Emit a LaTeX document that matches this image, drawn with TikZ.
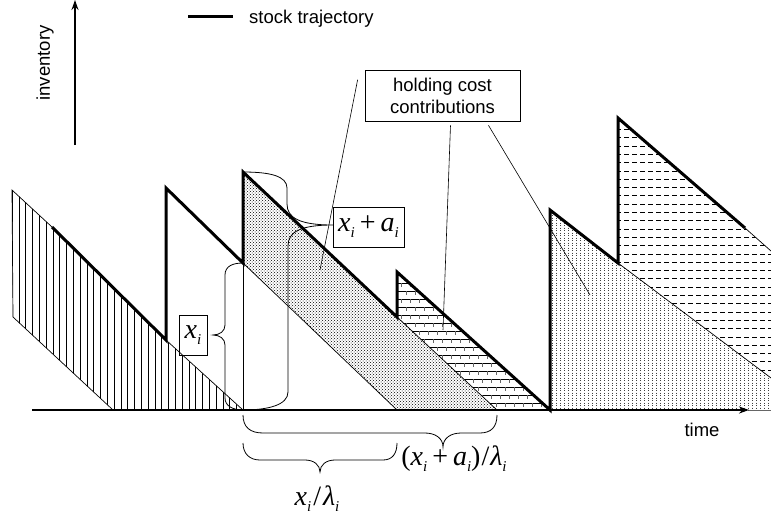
\documentclass[tikz,border=0pt]{standalone}
\usepackage{fontspec}
\setmainfont{Liberation Sans}
\newfontfamily\tms{Liberation Serif}
\usetikzlibrary{patterns,arrows.meta,calc}
% italic letter with italic subscript
\newcommand\mvar[2]{\textit{#1}\raisebox{-0.22em}{\fontsize{15}{15}\selectfont\textit{#2}}}

\begin{document}
\begin{tikzpicture}[x=1pt, y=-1pt,
    traj/.style={line width=3pt},
    edge/.style={line width=0.7pt},
    hatch/.style={line width=0.55pt},
    dotcol/.style={line width=0.8pt, black!75, dash pattern=on 0.8pt off 1.7pt},
    dashrow/.style={line width=0.6pt, dash pattern=on 5pt off 3pt},
    brc/.style={line width=0.8pt},
    leader/.style={line width=0.6pt},
    axis/.style={-{Stealth[length=10pt,width=7pt]}},
    lbl/.style={font=\fontsize{18.5}{22}\selectfont, inner sep=0pt},
    mlbl/.style={font=\tms\fontsize{28}{30}\selectfont, inner sep=0pt},
    framed/.style={draw, line width=0.7pt},
  ]
  \useasboundingbox (0,0) rectangle (771,517);

  %% --- holding cost areas ---
  % earlier batch: vertical lines
  \begin{scope}
    \clip (12,190) -- (52,227) -- (166,340) -- (243,410) -- (113,410) -- (13,317) -- cycle;
    \foreach \x in {12,18.8,...,244}
      \draw[hatch] (\x,180) -- (\x,412);
  \end{scope}

  % batch x_i + a_i: dots
  \fill[pattern=crosshatch dots, pattern color=black]
    (243,172) -- (497,410) -- (397,410) -- (243,263) -- cycle;

  % small batch: bricks
  \begin{scope}
    \clip (397,272) -- (550,410) -- (497,410) -- (397,317) -- cycle;
    \foreach \r in {0,...,17} {
      \pgfmathsetmacro\yb{275+8*\r}
      \pgfmathsetmacro\xo{397+4.5*mod(\r,2)}
      \draw[hatch] (395,\yb) -- (552,\yb);
      \foreach \k in {0,...,17}
        \draw[hatch, black!60] ({\xo+9*\k},\yb) -- ({\xo+9*\k},{\yb+4});
    }
  \end{scope}

  % next batch: dotted columns
  \begin{scope}
    \clip (550,210) -- (618,263) -- (771,378) -- (771,410) -- (550,410) -- cycle;
    \foreach \x in {552,556,...,770}
      \draw[dotcol] (\x,205) -- (\x,411);
  \end{scope}

  % last batch: dashed rows
  \begin{scope}
    \clip (618,118) -- (745,228) -- (771,251) -- (771,378) -- (618,263) -- cycle;
    \foreach \y in {121,129.3,...,380}
      \draw[dashrow] (616,\y) -- (771,\y);
  \end{scope}

  %% --- area outlines ---
  \draw[edge] (52,227) -- (12,190) -- (13,317) -- (113,410);
  \draw[edge] (166,340) -- (243,410);
  \draw[edge] (243,263) -- (243,410);
  \draw[edge] (243,263) -- (397,410);
  \draw[edge] (397,317) -- (497,410);
  \draw[edge] (618,263) -- (771,378);
  \draw[edge] (745,228) -- (771,251);
  \draw[edge, black!60] (748,410) -- (771,410);

  %% --- stock trajectory ---
  \draw[traj] (52,227) -- (166,340) -- (166,188) -- (243,263) -- (243,172)
    -- (397,317) -- (397,272) -- (550,410) -- (550,210) -- (618,263)
    -- (618,118) -- (745,228);

  %% --- axes ---
  \coordinate (t0) at (32,410);
  \coordinate (t1) at (749,410);
  \coordinate (v0) at (75,145);
  \coordinate (v1) at (75,0);
  \draw[axis, line width=2pt] (t0) -- (t1);
  \draw[axis, line width=1.5pt] (v0) -- (v1);
  \node[lbl] (timelbl) at (702,430) {time};
  \node[lbl, rotate=90] (invlbl) at (45,63) {inventory};

  %% --- legend ---
  \coordinate (leg0) at (188,16);
  \draw[traj] (leg0) -- ++(45,0);
  \node[lbl, anchor=west] (leglbl) at (249,19) {stock trajectory};

  %% --- braces ---
  % x_i + a_i (right of t_i)
  \draw[brc] (243,172) .. controls (270,172) and (287,176) .. (287,188) -- (287,204)
    .. controls (287,218) and (300,225) .. (333,225)
    .. controls (300,225) and (288,232) .. (288,246) -- (288,392)
    .. controls (288,405) and (268,410) .. (243,410);
  % x_i (left of t_i)
  \draw[brc] (243,263) .. controls (233,263) and (225,266) .. (225,275) -- (225,325)
    .. controls (225,331) and (220,335) .. (213,335)
    .. controls (220,335) and (225,339) .. (225,345) -- (225,398)
    .. controls (225,406) and (233,410) .. (243,410);
  % (x_i + a_i)/lambda_i
  \draw[brc] (243,415) .. controls (243,427) and (250,433) .. (263,433) -- (425,433)
    .. controls (435,433) and (443,438) .. (443,447)
    .. controls (443,438) and (451,433) .. (461,433) -- (480,433)
    .. controls (491,433) and (497,427) .. (497,415);
  % x_i/lambda_i
  \draw[brc] (243,443) .. controls (243,454) and (250,460) .. (260,460) -- (305,460)
    .. controls (314,460) and (320,465) .. (320,472)
    .. controls (320,465) and (326,460) .. (335,460) -- (383,460)
    .. controls (392,460) and (397,454) .. (397,443);

  %% --- labels ---
  \node[framed, mlbl, minimum width=28pt, minimum height=40pt] (xbox) at (193,335) {\mvar{x}{i}};
  \node[framed, mlbl, minimum width=71pt, minimum height=40pt] (xabox) at (368.5,227)
    {\mvar{x}{i}\hspace{5pt}+\hspace{5pt}\mvar{a}{i}};
  \node[mlbl] (tlong) at (454,459)
    {(\mvar{x}{i}\hspace{5pt}+\hspace{5pt}\mvar{a}{i})\hspace{1pt}/\hspace{1pt}\mvar{λ}{i}};
  \node[mlbl] (tshort) at (317,499) {\mvar{x}{i}\hspace{2pt}/\hspace{2pt}\mvar{λ}{i}};

  %% --- holding cost box + leaders ---
  \node[framed, lbl, align=center, minimum width=155pt, minimum height=51pt]
    (hcbox) at (442.5,95.5) {holding cost\\contributions};
  \coordinate (lead1) at (320,270);
  \coordinate (lead2) at (443,330);
  \coordinate (lead3) at (590,295);
  \draw[leader] ($(hcbox.north west)+(-7,10)$) -- (lead1);
  \draw[leader] ($(hcbox.south)+(8,4)$) -- (lead2);
  \draw[leader] ($(hcbox.south)+(46,4)$) -- (lead3);
\end{tikzpicture}
\end{document}
